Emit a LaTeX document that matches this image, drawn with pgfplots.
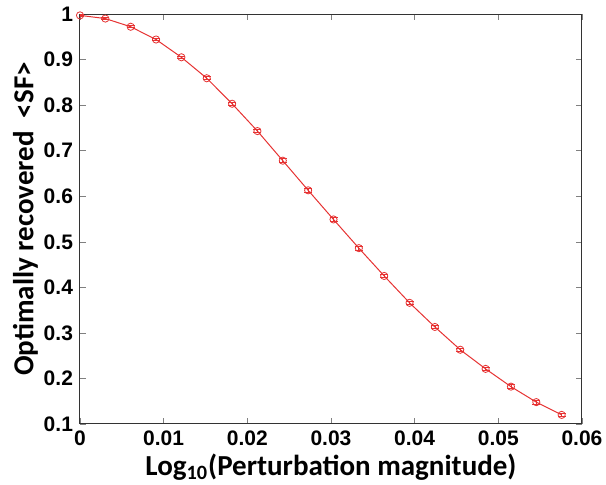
\documentclass[border=0pt]{standalone}
\usepackage{fontspec}
\setmainfont{Liberation Sans}
\newfontfamily\carlito{Carlito}
\usepackage{pgfplots}
\pgfplotsset{compat=1.18}
\definecolor{myred}{RGB}{230,50,50}
\begin{document}
\begin{tikzpicture}
\useasboundingbox (-40pt,-30.5pt) rectangle (263pt,212pt);
\begin{axis}[
  scale only axis, width=251pt, height=205pt,
  xmin=0, xmax=0.06, ymin=0.1, ymax=1,
  scaled x ticks=false, scaled y ticks=false,
  xtick={0,0.01,0.02,0.03,0.04,0.05,0.06},
  xticklabels={0,0.01,0.02,0.03,0.04,0.05,0.06},
  ytick={0.1,0.2,0.3,0.4,0.5,0.6,0.7,0.8,0.9,1},
  yticklabels={0.1,0.2,0.3,0.4,0.5,0.6,0.7,0.8,0.9,1},
  /pgf/number format/assume math mode=true,
  tick label style={font=\fontsize{10.5}{12}\selectfont\bfseries},
  tick align=inside, major tick length=3pt,
  axis line style={black!80, line width=0.5pt},
  xlabel={\carlito\bfseries\fontsize{14.5}{16}\selectfont Log\textsubscript{10}(Perturbation magnitude)},
  ylabel={\carlito\bfseries\fontsize{14.5}{16}\selectfont Optimally recovered\ \ <SF>},
  xlabel style={yshift=3pt},
  ylabel style={yshift=-4pt},
]
\addplot[color=myred, line width=0.5pt, mark=o, mark size=1.8pt,
  mark options={line width=0.4pt},
  error bars/.cd, y dir=both, y explicit,
  error mark options={rotate=90, mark size=2pt, line width=0.4pt}]
 coordinates {
 (0,0.997) +- (0,0.002)
 (0.00303,0.990) +- (0,0.002)
 (0.00606,0.972) +- (0,0.002)
 (0.00909,0.944) +- (0,0.003)
 (0.01212,0.905) +- (0,0.003)
 (0.01515,0.859) +- (0,0.003)
 (0.01818,0.803) +- (0,0.003)
 (0.02121,0.743) +- (0,0.004)
 (0.02424,0.678) +- (0,0.004)
 (0.02727,0.613) +- (0,0.004)
 (0.0303,0.549) +- (0,0.004)
 (0.03333,0.486) +- (0,0.004)
 (0.03636,0.425) +- (0,0.004)
 (0.03939,0.366) +- (0,0.004)
 (0.04242,0.313) +- (0,0.004)
 (0.04545,0.263) +- (0,0.004)
 (0.04848,0.221) +- (0,0.004)
 (0.05151,0.182) +- (0,0.004)
 (0.05454,0.148) +- (0,0.004)
 (0.05757,0.120) +- (0,0.004)
 };
\end{axis}
\end{tikzpicture}
\end{document}
